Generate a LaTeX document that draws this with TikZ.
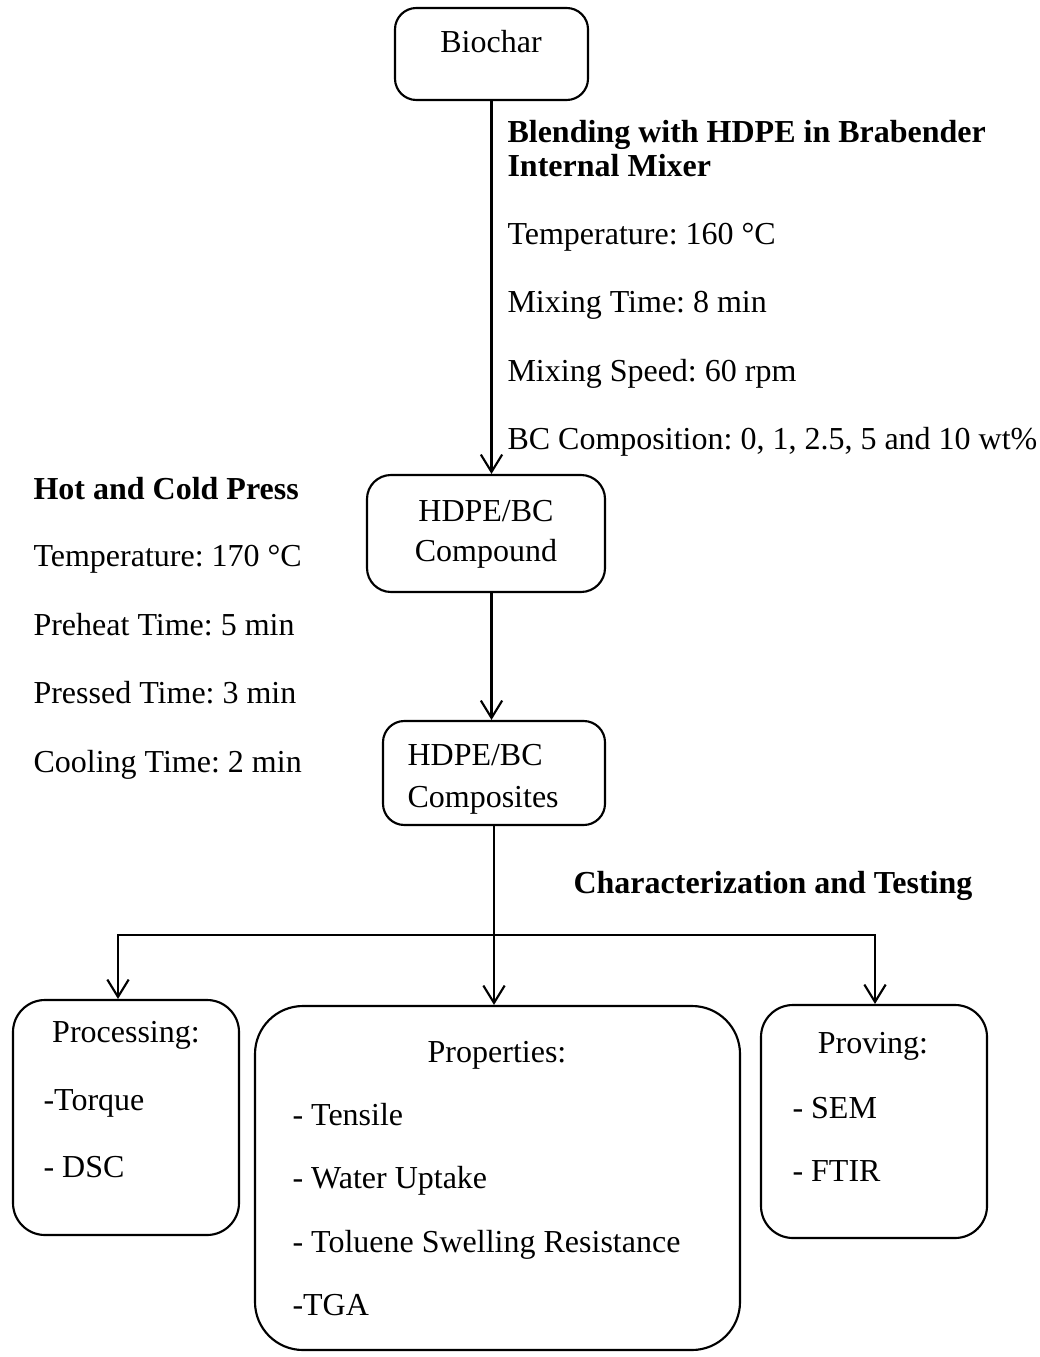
\documentclass[tikz,border=0pt]{standalone}
\usepackage{fontspec}
\setmainfont{Liberation Serif}
\frenchspacing
\usetikzlibrary{arrows.meta,fit}
\tikzset{
  flowbox/.style={draw, line width=0.8pt, rounded corners=#1, inner sep=0pt},
  flowbox/.default=8pt,
  flowline/.style={line width=0.8pt},
  flowarrow/.style={line width=0.8pt, -{Straight Barb[length=6.5pt, width=8pt]}},
  steptext/.style={font=\fontsize{12}{14}\selectfont, inner sep=0pt, anchor=base west},
  headtext/.style={font=\fontsize{12}{14}\selectfont\bfseries, inner sep=0pt, anchor=base west},
  boxtext/.style={font=\fontsize{12}{14}\selectfont, inner sep=0pt, anchor=base}
}

\begin{document}
\begin{tikzpicture}[x=0.375pt, y=-0.375pt]
  \useasboundingbox (0,0) rectangle (1040,1357);
  % process boxes
  \node[flowbox, fit={(395,8) (588,100)}] (biochar) {};
  \node[flowbox=9pt, fit={(367,475) (605,592)}] (compound) {};
  \node[flowbox, fit={(383,721) (605,825)}] (composites) {};
  \node[flowbox=12pt, fit={(13,1000) (239,1235)}] (processing) {};
  \node[flowbox=18pt, fit={(255,1006) (740,1350)}] (properties) {};
  \node[flowbox=12pt, fit={(761,1005) (987,1238)}] (proving) {};
  \node[boxtext] (biochartext) at (491,53) {Biochar};
  \node[boxtext] (compoundtop) at (486,521) {HDPE/BC};
  \node[boxtext] (compoundbot) at (486,561) {Compound};
  \node[steptext] (compositestop) at (407,765) {HDPE/BC};
  \node[steptext] (compositesbot) at (407,807) {Composites};
  % mixing step
  \node[headtext] (mixhead) at (507,143) {Blending with HDPE in Brabender};
  \node[headtext] (mixhead2) at (507,177) {Internal Mixer};
  \node[steptext] (mixtemp) at (507,245) {Temperature: 160 °C};
  \node[steptext] (mixtime) at (507,313) {Mixing Time: 8 min};
  \node[steptext] (mixspeed) at (507,382) {Mixing Speed: 60 rpm};
  \node[steptext] (mixbc) at (507,450) {BC Composition: 0, 1, 2.5, 5 and 10 wt\%};
  % pressing step
  \node[headtext] (presshead) at (33,500) {Hot and Cold Press};
  \node[steptext] (presstemp) at (33,567) {Temperature: 170 °C};
  \node[steptext] (preheat) at (33,635) {Preheat Time: 5 min};
  \node[steptext] (pressed) at (33,703) {Pressed Time: 3 min};
  \node[steptext] (cooling) at (33,772) {Cooling Time: 2 min};
  \node[headtext] (charhead) at (573,893) {Characterization and Testing};
  % box contents
  \node[boxtext] (proctitle) at (126,1042) {Processing:};
  \node[steptext] (torque) at (43,1110) {-Torque};
  \node[steptext] (dsc) at (43,1177) {- DSC};
  \node[boxtext] (proptitle) at (497,1062) {Properties:};
  \node[steptext] (tensile) at (292,1125) {- Tensile};
  \node[steptext] (water) at (292,1188) {- Water Uptake};
  \node[steptext] (toluene) at (292,1252) {- Toluene Swelling Resistance};
  \node[steptext] (tga) at (292,1315) {-TGA};
  \node[boxtext] (provtitle) at (873,1053) {Proving:};
  \node[steptext] (sem) at (792,1118) {- SEM};
  \node[steptext] (ftir) at (792,1181) {- FTIR};
  % connectors
  \draw[flowarrow] (biochar.south) -- (biochar.south |- compound.north);
  \draw[flowarrow] (compound.south -| biochar.south) -- (biochar.south |- composites.north);
  \draw[flowarrow] (composites.south) -- (composites.south |- properties.north);
  \coordinate (forkleft) at (118,935);
  \coordinate (forkright) at (875,935);
  \draw[flowarrow] (forkright) -- (forkleft) -- (forkleft |- processing.north);
  \draw[flowarrow] (forkleft) -- (forkright) -- (forkright |- proving.north);
\end{tikzpicture}
\end{document}
